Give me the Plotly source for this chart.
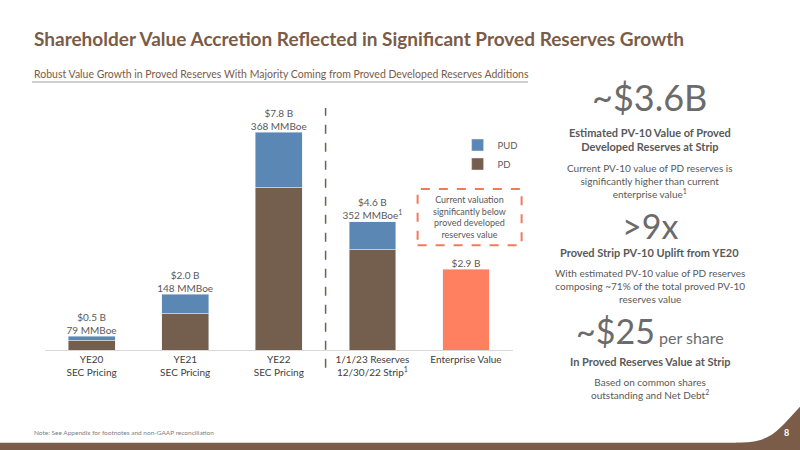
import plotly.graph_objects as go

cats = ["YE20<br>SEC Pricing", "YE21<br>SEC Pricing", "YE22<br>SEC Pricing",
        "1/1/23 Reserves<br>12/30/22 Strip<sup>1</sup>", "Enterprise Value"]
pd_vals = [0.35, 1.32, 5.83, 3.6, None]
pud_vals = [0.15, 0.68, 1.97, 1.0, None]
ev_vals = [None, None, None, None, 2.9]
totals = [0.5, 2.0, 7.8, 4.6, 2.9]
top_labels = ["$0.5 B<br>79 MMBoe", "$2.0 B<br>148 MMBoe", "$7.8 B<br>368 MMBoe",
              "$4.6 B<br>352 MMBoe<sup>1</sup>", "$2.9 B"]

F = "Lato"
GRAY = "#595959"
BROWN = "#745E4D"
fig = go.Figure()
fig.add_bar(x=cats, y=pd_vals, name="PD", marker_color=BROWN, width=0.5)
fig.add_bar(x=cats, y=pud_vals, name="PUD", marker_color="#5B87B5", width=0.5)
fig.add_bar(x=cats, y=ev_vals, name="EV", marker_color="#FF7F61", width=0.5, showlegend=False)
fig.add_scatter(x=cats, y=totals, mode="text", text=top_labels, textposition="top center",
                textfont=dict(family=F, size=10, color=GRAY), showlegend=False, cliponaxis=False)

fig.update_layout(
    width=800, height=450, barmode="stack", paper_bgcolor="white", plot_bgcolor="white",
    margin=dict(l=0, r=0, t=0, b=0), font=dict(family=F, color=GRAY),
    xaxis=dict(domain=[0.056, 0.641], range=[-0.5, 4.5], showline=True, linecolor="#D9D9D9",
               ticks="", tickfont=dict(size=10, color="#404040")),
    yaxis=dict(domain=[0.222, 0.75], range=[0, 8.5], visible=False, showgrid=False),
    legend=dict(x=0.572, y=0.71, xanchor="left", yanchor="top", traceorder="reversed",
                font=dict(size=9.5, color=GRAY), bgcolor="rgba(0,0,0,0)", itemwidth=30),
    shapes=[
        dict(type="line", xref="x", yref="paper", x0=2.5, x1=2.5, y0=0.183, y1=0.76,
             line=dict(color=BROWN, width=1.5, dash="dash")),
        dict(type="rect", xref="paper", yref="paper", x0=0.522, x1=0.652, y0=0.455, y1=0.58,
             line=dict(color="#F4795C", width=2, dash="dash")),
        dict(type="line", xref="paper", yref="paper", x0=0.04, x1=0.66, y0=0.818, y1=0.818,
             line=dict(color="#BFBFBF", width=1.5)),
        dict(type="rect", xref="paper", yref="paper", x0=0, x1=1, y0=0, y1=0.016,
             line=dict(width=0), fillcolor="#7A5C48", layer="above"),
        dict(type="path", xref="paper", yref="paper",
             path="M 0.92,0 L 0.92,0.016 C 0.965,0.016 0.97,0.04 1,0.096 L 1,0 Z",
             line=dict(width=0), fillcolor="#7A5C48", layer="above"),
    ],
)

ann = [
    dict(x=0.04, y=0.915, text="<b>Shareholder Value Accretion Reflected in Significant Proved Reserves Growth</b>",
         font=dict(size=19, color="#7A5C48"), xanchor="left"),
    dict(x=0.04, y=0.818, text="Robust Value Growth in Proved Reserves With Majority Coming from Proved Developed Reserves Additions",
         font=dict(size=10.5, color="#7A5C48"), xanchor="left", yanchor="bottom"),
    dict(x=0.587, y=0.518, text="Current valuation<br>significantly below<br>proved developed<br>reserves value",
         font=dict(size=9, color=GRAY)),
    dict(x=0.812, y=0.785, text="~$3.6B", font=dict(size=36, color="#6b6b6b")),
    dict(x=0.812, y=0.69, text="<b>Estimated PV-10 Value of Proved<br>Developed Reserves at Strip</b>", font=dict(size=11, color=GRAY)),
    dict(x=0.812, y=0.598, text="Current PV-10 value of PD reserves is<br>significantly higher than current<br>enterprise value<sup>1</sup>", font=dict(size=10, color=GRAY)),
    dict(x=0.812, y=0.5, text=">9x", font=dict(size=34, color="#6b6b6b")),
    dict(x=0.812, y=0.438, text="<b>Proved Strip PV-10 Uplift from YE20</b>", font=dict(size=11, color=GRAY)),
    dict(x=0.812, y=0.364, text="With estimated PV-10 value of PD reserves<br>composing ~71% of the total proved PV-10<br>reserves value", font=dict(size=10, color=GRAY)),
    dict(x=0.812, y=0.265, text="<span style='font-size:34px'>~$25</span> per share", font=dict(size=16, color="#6b6b6b")),
    dict(x=0.812, y=0.196, text="<b>In Proved Reserves Value at Strip</b>", font=dict(size=11, color=GRAY)),
    dict(x=0.812, y=0.136, text="Based on common shares<br>outstanding and Net Debt<sup>2</sup>", font=dict(size=10, color=GRAY)),
    dict(x=0.04, y=0.04, text="Note: See Appendix for footnotes and non-GAAP reconciliation", font=dict(size=6.5, color="#808080"),
         xanchor="left"),
    dict(x=0.983, y=0.038, text="<b>8</b>", font=dict(size=9, color="white"), xanchor="center"),
]
for a in ann:
    a.setdefault("xanchor", "center")
    a.setdefault("yanchor", "middle")
    fig.add_annotation(xref="paper", yref="paper", showarrow=False, align="center", **a)

fig.write_html("out.html", config={"displayModeBar": False},
               post_script="document.body.style.margin='0';document.body.style.overflow='hidden';")
